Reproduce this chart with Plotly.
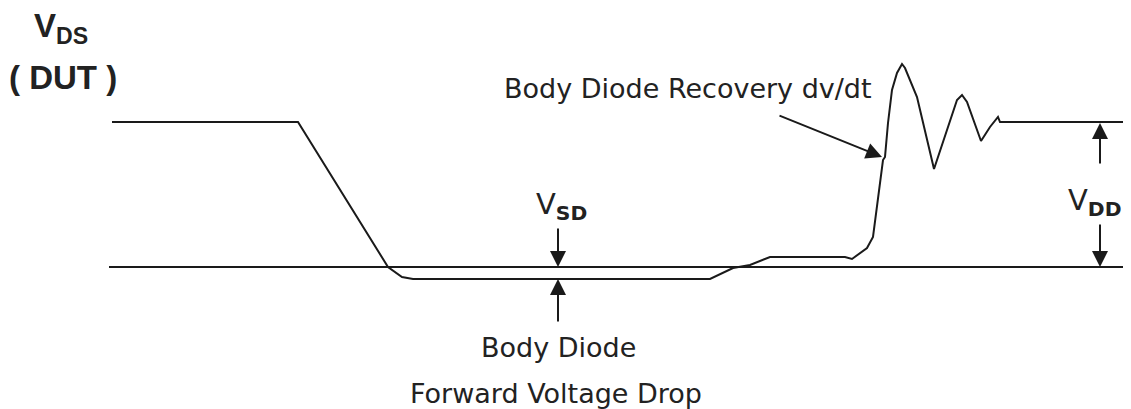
import plotly.graph_objects as go

# Waveform of V_DS (diagram units: x = time, y = level, y axis reversed)
t = [112, 298, 388, 402, 413, 710, 733, 750, 770, 845, 852, 867, 873, 883, 885,
     888, 892, 897, 902, 905, 917, 934, 947, 957, 962, 967, 981, 990, 998, 1000, 1131]
v = [122, 122, 267, 277, 279, 279, 268, 265, 257, 257, 259, 248, 237, 160, 157,
     123, 90, 73, 64, 68, 97, 169, 130, 100, 95, 102, 141, 127, 117, 122, 122]

# Reference (zero) line
base_t = [109, 1131]
base_v = [267, 267]

# Levels
v_top = 123
v_zero = 267
v_sd = 279

LINE = "#1a1a1a"
TXT = "#222222"
FONT = "DejaVu Sans"

fig = go.Figure()
fig.add_trace(go.Scatter(x=base_t, y=base_v, mode="lines",
                         line=dict(color=LINE, width=2), hoverinfo="skip"))
fig.add_trace(go.Scatter(x=t, y=v, mode="lines",
                         line=dict(color=LINE, width=2), hoverinfo="skip"))

def arrow(xh, yh, xt, yt):
    fig.add_annotation(x=xh, y=yh, ax=xt, ay=yt, xref="x", yref="y",
                       axref="x", ayref="y", text="", showarrow=True,
                       arrowhead=2, arrowsize=1.6, arrowwidth=2, arrowcolor=LINE)

# V_SD arrows
arrow(558, v_zero, 558, 227)
arrow(558, v_sd, 558, 323)
# V_DD arrows
arrow(1100, v_top, 1100, 165)
arrow(1100, v_zero, 1100, 223)
# dv/dt arrow
arrow(882, 157, 778, 115)

def label(x, y, text, size, family=FONT, color=TXT):
    fig.add_annotation(x=x, y=y, xref="x", yref="y", text=text, showarrow=False,
                       font=dict(family=family, size=size, color=color),
                       xanchor="center", yanchor="middle")

label(61, 28, "<b>V<sub>DS</sub></b>", 33, family="Liberation Sans")
label(63, 77, "<b>( DUT )</b>", 33, family="Liberation Sans")
label(561, 206, "V<sub><b>SD</b></sub>", 29)
label(1095, 202, "V<sub><b>DD</b></sub>", 29)
label(688, 88, "Body Diode Recovery dv/dt", 27)
label(558, 347, "Body Diode", 27)
label(556, 393, "Forward Voltage Drop", 27)

# The page body adds an 8px margin, so the figure is sized to the visible area
# and its axis ranges start at 8 to keep the diagram in place.
fig.update_layout(
    width=1123, height=401,
    margin=dict(l=0, r=0, t=0, b=0),
    paper_bgcolor="white", plot_bgcolor="white",
    showlegend=False,
    xaxis=dict(range=[8, 1131], visible=False, fixedrange=True),
    yaxis=dict(range=[409, 8], visible=False, fixedrange=True),
)

fig.write_html("out.html")
